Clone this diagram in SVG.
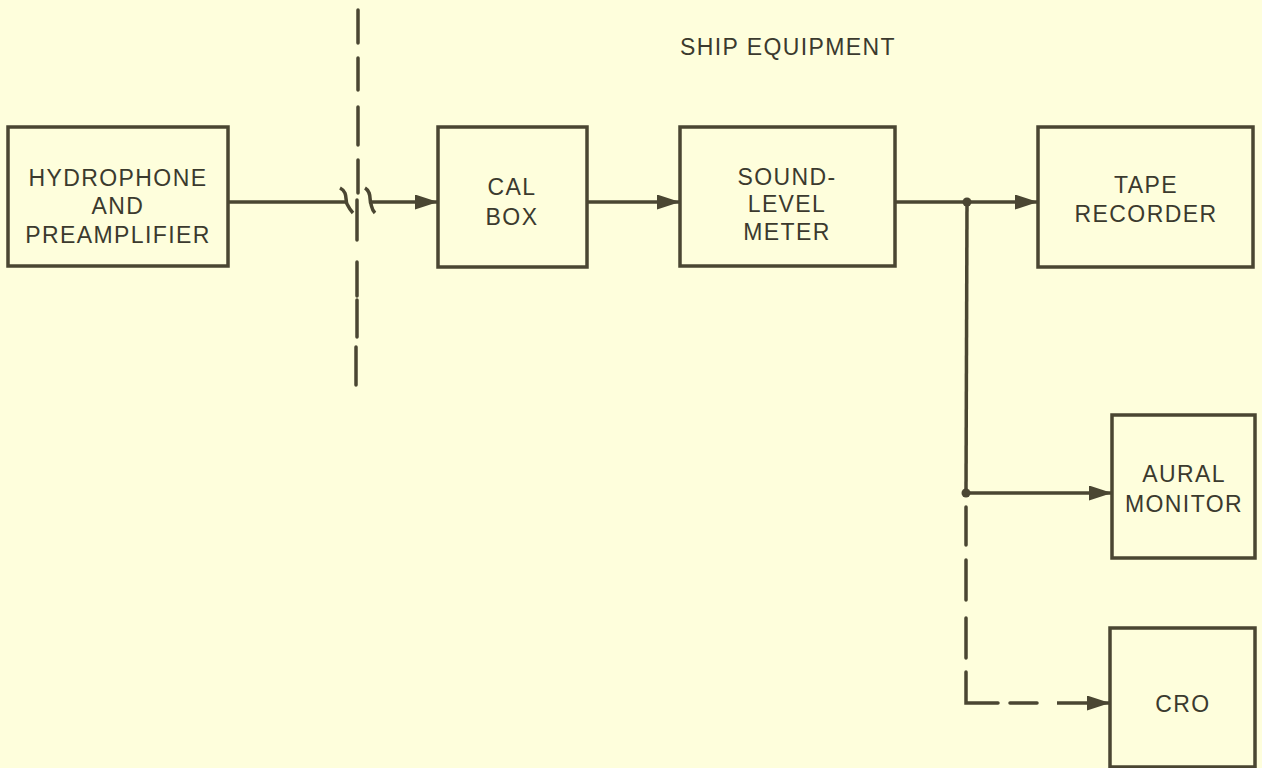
<svg xmlns="http://www.w3.org/2000/svg" width="1262" height="768" viewBox="0 0 1262 768">
<defs>
<style>
.box{fill:none;stroke:#4a4632;stroke-width:3.5}
.ln{fill:none;stroke:#4a4632;stroke-width:3.5}
.dash{fill:none;stroke:#4a4632;stroke-width:3.5;stroke-linecap:round}
.t{font-family:"Liberation Sans",Arial,sans-serif;font-size:23px;letter-spacing:1.4px;fill:#3b3a2e;text-anchor:middle}
</style>
<marker id="arr" markerUnits="userSpaceOnUse" markerWidth="26" markerHeight="16" refX="23" refY="7.5" orient="auto">
<path d="M0,0 L23,7.5 L0,15 z" fill="#4a4632"/>
</marker>
</defs>
<rect width="1262" height="768" fill="#fefedc"/>

<g id="boundary">
<path class="dash" d="M358,10V43M358,58V90M358,107V145M358,160V193M357,200V240M357,262V296M357,300V337M356,347V385"/>
<text class="t" x="680" y="55" style="text-anchor:start">SHIP EQUIPMENT</text>
</g>

<g id="hydrophone">
<rect class="box" x="8" y="127" width="220" height="139"/>
<text class="t" x="118" y="186">HYDROPHONE</text>
<text class="t" x="118" y="214">AND</text>
<text class="t" x="118" y="243">PREAMPLIFIER</text>
</g>

<g id="calbox">
<rect class="box" x="438" y="127" width="149" height="140"/>
<text class="t" x="512" y="195">CAL</text>
<text class="t" x="512" y="225">BOX</text>
</g>

<g id="slm">
<rect class="box" x="680" y="127" width="215" height="139"/>
<text class="t" x="787" y="185">SOUND-</text>
<text class="t" x="787" y="212">LEVEL</text>
<text class="t" x="787" y="240">METER</text>
</g>

<g id="tape">
<rect class="box" x="1038" y="127" width="215" height="140"/>
<text class="t" x="1146" y="193">TAPE</text>
<text class="t" x="1146" y="222">RECORDER</text>
</g>

<g id="aural">
<rect class="box" x="1112" y="415" width="143" height="143"/>
<text class="t" x="1184" y="482">AURAL</text>
<text class="t" x="1184" y="512">MONITOR</text>
</g>

<g id="cro">
<rect class="box" x="1110" y="628" width="145" height="139"/>
<text class="t" x="1183" y="712">CRO</text>
</g>

<g id="connectors">
<line class="ln" x1="228" y1="202" x2="346" y2="202"/>
<path class="ln" d="M340,188 C348,192 345,200 347,204 C349,208 350,210 353,213" stroke-width="3"/>
<path class="ln" d="M365,188 C372,192 369,200 371,204 C372,208 372,210 375,213" stroke-width="3"/>
<line class="ln" x1="370" y1="202" x2="438" y2="202" marker-end="url(#arr)"/>
<line class="ln" x1="587" y1="202" x2="680" y2="202" marker-end="url(#arr)"/>
<line class="ln" x1="895" y1="202" x2="1038" y2="202" marker-end="url(#arr)"/>
<line class="ln" x1="967" y1="202" x2="966" y2="493"/>
<line class="ln" x1="966" y1="493" x2="1112" y2="493" marker-end="url(#arr)"/>
<circle cx="967" cy="202" r="4.5" fill="#4a4632"/>
<circle cx="966" cy="493" r="4.5" fill="#4a4632"/>
<path class="dash" d="M966,507V545M966,560V600M966,618V658M966,672V703H998M1010,703H1037"/>
<line class="ln" x1="1057" y1="703" x2="1110" y2="703" marker-end="url(#arr)"/>
</g>
</svg>
